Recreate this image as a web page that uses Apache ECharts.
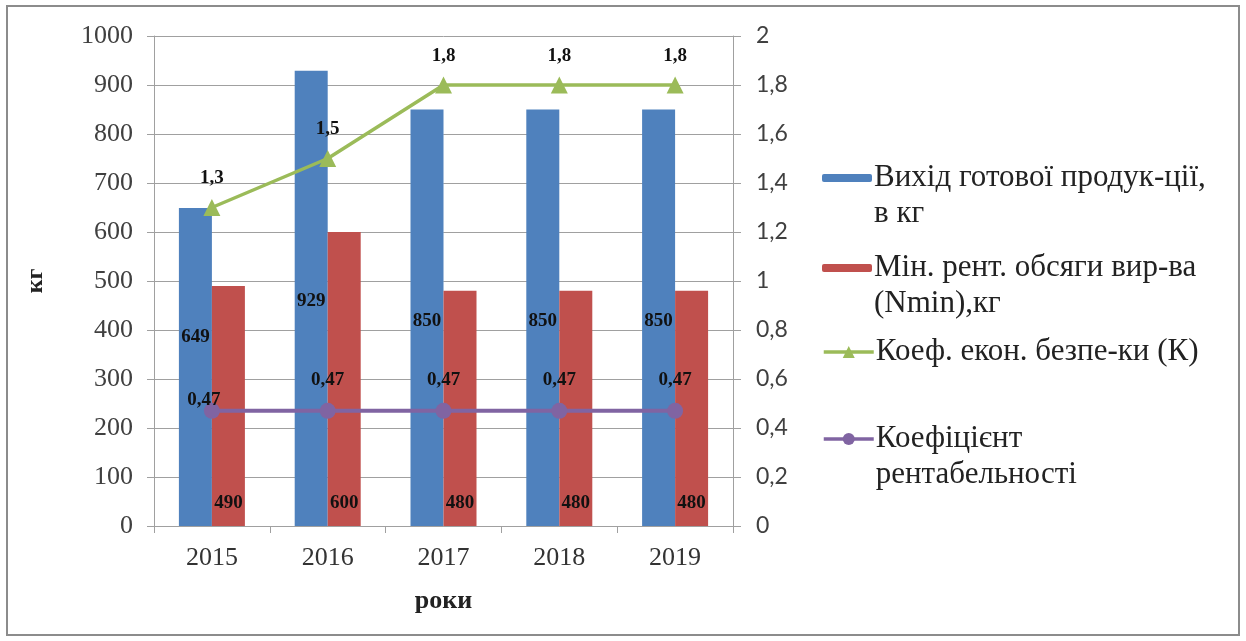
<!DOCTYPE html>
<html>
<head>
<meta charset="utf-8">
<script src="https://cdn.jsdelivr.net/npm/echarts@6/dist/echarts.min.js"></script>
<style>
html,body{margin:0;padding:0;background:#fff;}
#c{width:1246px;height:641px;}
</style>
</head>
<body>
<div id="c"></div>
<script>
const categories = ['2015', '2016', '2017', '2018', '2019'];
const outputValues = [649, 929, 850, 850, 850];
const minVolumeValues = [490, 600, 480, 480, 480];
const safetyCoef = [1.3, 1.5, 1.8, 1.8, 1.8];
const profitCoef = [0.47, 0.47, 0.47, 0.47, 0.47];
const seriesNames = [
  'Вихід готової продук-ції,\nв кг',
  'Мін. рент. обсяги вир-ва\n(Nmin),кг',
  'Коеф. екон. безпе-ки (К)',
  'Коефіцієнт\nрентабельності'
];
const leftTicks = {min: 0, max: 1000, interval: 100};
const rightTicks = {min: 0, max: 2, interval: 0.2};

const serif = 'Liberation Serif';
const comma = v => String(Math.round(v * 100) / 100).replace('.', ',');

const chart = echarts.init(document.getElementById('c'), null, {renderer: 'canvas'});

function legendFor(name, top, isBar) {
  const twoLine = name.indexOf('\n') >= 0;
  const lg = {
    data: [name],
    orient: 'vertical',
    left: 822,
    top: top,
    padding: 0,
    itemWidth: 50,
    itemHeight: isBar ? 8 : 15,
    itemGap: 0,
    selectedMode: false,
    formatter: n => twoLine ? '\n' + n : n,
    textStyle: {fontFamily: serif, fontSize: 31, color: '#222', lineHeight: 36, padding: [0, 0, 0, -3]}
  };
  if (!isBar) lg.lineStyle = {width: 3.5};
  return lg;
}

const labelBold = {fontFamily: serif, fontSize: 19, fontWeight: 'bold', color: '#111'};

chart.setOption({
  animation: false,
  backgroundColor: '#fff',
  grid: {left: 154, right: 1246 - 733, top: 36, bottom: 641 - 526, containLabel: false},
  graphic: [{
    type: 'rect', shape: {x: 7, y: 6, width: 1232, height: 629},
    style: {fill: 'none', stroke: '#8c8c8c', lineWidth: 2}, silent: true, z: -1
  }],
  legend: [
    legendFor(seriesNames[0], 178 - 54, true),
    legendFor(seriesNames[1], 268 - 54, true),
    legendFor(seriesNames[2], 352 - 18, false),
    legendFor(seriesNames[3], 439 - 54, false)
  ],
  xAxis: {
    type: 'category',
    data: categories,
    name: 'роки',
    nameLocation: 'middle',
    nameGap: 62,
    nameTextStyle: {fontFamily: serif, fontSize: 26, fontWeight: 'bold', color: '#222'},
    axisLine: {lineStyle: {color: '#a0a0a0', width: 1}},
    axisTick: {show: true, length: 7, lineStyle: {color: '#a0a0a0'}},
    axisLabel: {fontFamily: serif, fontSize: 26, color: '#333', margin: 19}
  },
  yAxis: [{
    type: 'value',
    min: leftTicks.min, max: leftTicks.max, interval: leftTicks.interval,
    name: 'кг',
    nameLocation: 'middle',
    nameGap: 106,
    nameRotate: 90,
    nameTextStyle: {fontFamily: serif, fontSize: 24, fontWeight: 'bold', color: '#222'},
    axisLine: {show: true, lineStyle: {color: '#a0a0a0'}},
    axisTick: {show: true, length: 7, lineStyle: {color: '#a0a0a0'}},
    splitLine: {lineStyle: {color: '#a0a0a0', width: 1}},
    axisLabel: {fontFamily: serif, fontSize: 26, color: '#404040', margin: 21, formatter: v => String(v)}
  }, {
    type: 'value',
    position: 'right',
    min: rightTicks.min, max: rightTicks.max, interval: rightTicks.interval,
    axisLine: {show: true, lineStyle: {color: '#a0a0a0'}},
    axisTick: {show: true, length: 8, lineStyle: {color: '#a0a0a0'}},
    splitLine: {show: false},
    axisLabel: {fontFamily: 'Lato', fontSize: 23, color: '#404040', margin: 23, formatter: comma}
  }],
  series: [{
    name: seriesNames[0],
    type: 'bar',
    data: outputValues.map((v, i) => i === 0 ? {value: v, label: {offset: [0, -30]}} : v),
    barWidth: 33,
    barGap: '0%',
    itemStyle: {color: '#4F81BD'},
    label: Object.assign({show: true, position: 'inside', offset: [0, 3]}, labelBold),
    z: 2
  }, {
    name: seriesNames[1],
    type: 'bar',
    data: minVolumeValues,
    barWidth: 33,
    barGap: '0%',
    itemStyle: {color: '#C0504D'},
    label: Object.assign({show: true, position: 'insideBottom', distance: 13}, labelBold),
    z: 2
  }, {
    name: seriesNames[2],
    type: 'line',
    yAxisIndex: 1,
    data: safetyCoef,
    symbol: 'triangle',
    symbolSize: 17,
    lineStyle: {color: '#9BBB59', width: 3.5},
    itemStyle: {color: '#9BBB59'},
    label: Object.assign({show: true, position: 'top', distance: 11, formatter: p => comma(p.value)}, labelBold),
    z: 5
  }, {
    name: seriesNames[3],
    type: 'line',
    yAxisIndex: 1,
    data: profitCoef.map((v, i) => i === 0 ? {value: v, label: {offset: [-8, 20]}} : v),
    symbol: 'circle',
    symbolSize: 16,
    lineStyle: {color: '#8064A2', width: 4},
    itemStyle: {color: '#8064A2'},
    label: Object.assign({show: true, position: 'top', distance: 13, formatter: p => comma(p.value)}, labelBold),
    z: 5
  }]
});
</script>
</body>
</html>
